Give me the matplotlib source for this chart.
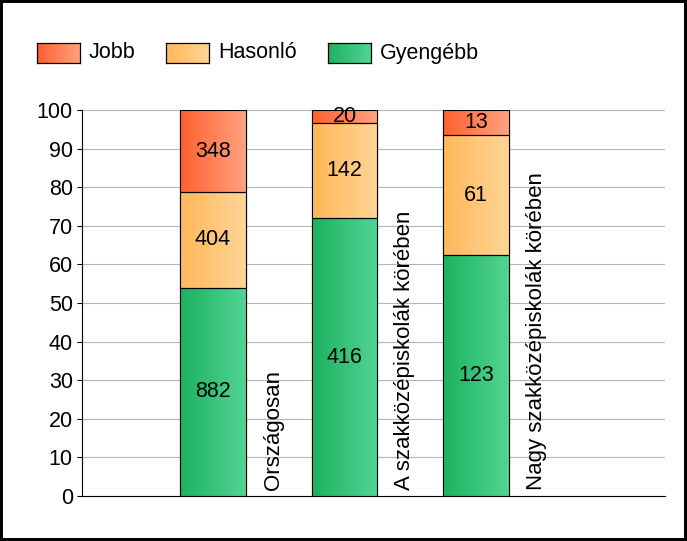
import matplotlib
matplotlib.use('Agg')
import matplotlib.pyplot as plt
import numpy as np
from matplotlib.colors import LinearSegmentedColormap
from matplotlib.patches import Rectangle

plt.rcParams['font.family'] = ['Liberation Sans', 'DejaVu Sans']

categories = ['Országosan', 'A szakközépiskolák körében', 'Nagy szakközépiskolák körében']
series_names = ['Jobb', 'Hasonló', 'Gyengébb']
gyengebb = [882, 416, 123]
hasonlo = [404, 142, 61]
jobb = [348, 20, 13]
y_ticks = [0, 10, 20, 30, 40, 50, 60, 70, 80, 90, 100]

# left (dark) -> right (light) gradient colours per series
grad_colors = {
	'Jobb': ('#ff6030', '#ffa27f'),
	'Hasonló': ('#ffb75a', '#ffd595'),
	'Gyengébb': ('#1cb25f', '#52d494'),
}

FS = 15.5

counts = np.array([gyengebb, hasonlo, jobb], dtype=float)
totals = counts.sum(axis=0)
percents = counts / totals * 100
stack_order = ['Gyengébb', 'Hasonló', 'Jobb']

fig = plt.figure(figsize=(6.87, 5.41), dpi=100)
ax = fig.add_axes([82 / 687, 45 / 541, (665 - 82) / 687, (496 - 110) / 541])

x = np.arange(len(categories))
width = 0.5
grad = np.linspace(0, 1, 64).reshape(1, -1)

bottom = np.zeros(len(categories))
for i, name in enumerate(stack_order):
	cmap = LinearSegmentedColormap.from_list(name, grad_colors[name])
	bars = ax.bar(x, percents[i], width, bottom=bottom, color=cmap(0.5),
				  edgecolor='black', linewidth=0.8, zorder=3)
	for bar, cnt in zip(bars, counts[i]):
		bx, by = bar.get_x(), bar.get_y()
		bw, bh = bar.get_width(), bar.get_height()
		im = ax.imshow(grad, cmap=cmap, aspect='auto', extent=[bx, bx + bw, by, by + bh],
					   zorder=3.5, interpolation='bicubic')
		im.set_clip_path(bar)
		ax.add_patch(Rectangle((bx, by), bw, bh, fill=False, edgecolor='black',
							   linewidth=0.8, zorder=4))
		ax.text(bx + bw / 2, by + bh / 2, f'{int(cnt)}', ha='center', va='center',
				fontsize=FS, zorder=5)
	bottom += percents[i]

for xi, label in zip(x, categories):
	ax.text(xi + 0.46, 1.5, label, rotation=90, ha='center', va='bottom', fontsize=16, zorder=5)

ax.set_xlim(-0.996, 3.437)
ax.set_ylim(0, 100)
ax.set_yticks(y_ticks)
ax.set_xticks([])
ax.tick_params(axis='y', labelsize=FS, length=3.6, width=0.8, direction='out', pad=3)
ax.yaxis.grid(True, color='#b4b4b4', linewidth=0.8)
ax.set_axisbelow(True)
for side in ['top', 'right']:
	ax.spines[side].set_visible(False)
ax.spines['left'].set_linewidth(0.8)
ax.spines['bottom'].set_linewidth(0.8)

# legend drawn by hand so the swatches keep their gradient
legend_x = [37, 166, 328]
for name, lx in zip(series_names, legend_x):
	cmap = LinearSegmentedColormap.from_list(name, grad_colors[name])
	lax = fig.add_axes([lx / 687, (541 - 63) / 541, 43 / 687, 20 / 541])
	lax.imshow(grad, cmap=cmap, aspect='auto', interpolation='bicubic')
	lax.set_xticks([])
	lax.set_yticks([])
	for sp in lax.spines.values():
		sp.set_linewidth(0.9)
	fig.text((lx + 52) / 687, (541 - 53) / 541, name, ha='left', va='center', fontsize=FS)

fig.patches.append(Rectangle((0, 0), 1, 1, transform=fig.transFigure, fill=False,
							 edgecolor='black', linewidth=4.3))

fig.savefig('out.png', dpi=100)
